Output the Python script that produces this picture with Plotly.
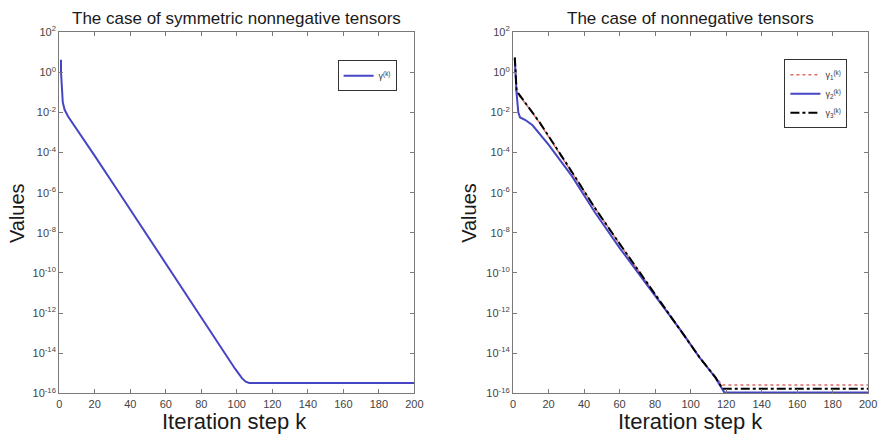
import plotly.graph_objects as go

# ---- data ----
k_sym = [1, 1, 2, 3, 5, 7, 10, 15, 20, 33, 52, 70, 89, 99, 103, 105, 107, 200]
gamma_sym = [4.2, 1.0, 3.2e-2, 1.4e-2, 6.3e-3, 3.5e-3, 1.4e-3, 3.3e-4, 6.9e-5,
             1.26e-6, 3.5e-9, 1.3e-11, 3.7e-14, 1.7e-15, 5.6e-16, 3.8e-16, 3.3e-16, 3.3e-16]

k_g1 = [1, 2, 3, 5, 10, 15, 33, 46, 60, 81, 95, 105, 114, 118, 200]
gamma1 = [4.0, 1.1e-1, 7.9e-2, 4.7e-2, 1.26e-2, 3.0e-3, 1.1e-5,
          1.8e-7, 2.8e-9, 6.0e-12, 1.1e-13, 6.0e-15, 6.3e-16, 2.6e-16, 2.6e-16]

k_g2 = [1, 2, 3, 4, 7, 11, 20, 33, 46, 60, 81, 95, 105, 114, 119, 200]
gamma2 = [5.0, 9.5e-2, 1.0e-2, 5.6e-3, 4.2e-3, 2.3e-3, 2.5e-4, 7.1e-6,
          1.1e-7, 1.8e-9, 5.6e-12, 1.2e-13, 6.3e-15, 6.0e-16, 1.12e-16, 1.12e-16]

k_g3 = [1, 2, 3, 5, 10, 15, 33, 46, 60, 81, 95, 105, 114, 118, 200]
gamma3 = [5.6, 1.3e-1, 8.9e-2, 5.0e-2, 1.3e-2, 3.2e-3, 1.15e-5,
          1.8e-7, 2.9e-9, 6.3e-12, 1.2e-13, 6.3e-15, 6.3e-16, 1.7e-16, 1.7e-16]

x_ticks = list(range(0, 201, 20))
y_exps = [2, 0, -2, -4, -6, -8, -10, -12, -14, -16]

W, H = 887, 441
FONT = "Liberation Sans, Arial, sans-serif"


def px_x(x):
    return x / W


def px_y(y):
    return 1 - y / H


fig = go.Figure()

BLUE = "#4646c4"
fig.add_trace(go.Scatter(x=k_sym, y=gamma_sym, mode="lines",
                         line=dict(color=BLUE, width=2),
                         name="γ<sup>(k)</sup>", xaxis="x", yaxis="y",
                         legend="legend", showlegend=True))
fig.add_trace(go.Scatter(x=k_g1, y=gamma1, mode="lines",
                         line=dict(color="#e06a6a", width=1.5, dash="dot"),
                         name="γ<sub>1</sub><sup>(k)</sup>", xaxis="x2", yaxis="y2",
                         legend="legend2"))
fig.add_trace(go.Scatter(x=k_g2, y=gamma2, mode="lines",
                         line=dict(color=BLUE, width=2),
                         name="γ<sub>2</sub><sup>(k)</sup>", xaxis="x2", yaxis="y2",
                         legend="legend2"))
fig.add_trace(go.Scatter(x=k_g3, y=gamma3, mode="lines",
                         line=dict(color="black", width=2, dash="dashdot"),
                         name="γ<sub>3</sub><sup>(k)</sup>", xaxis="x2", yaxis="y2",
                         legend="legend2"))

ydom = [px_y(398), px_y(25)]
axis_common = dict(showline=True, linecolor="#7a7a7a", linewidth=1.2, mirror="allticks",
                   ticks="inside", ticklen=4, tickcolor="#7a7a7a", showgrid=False,
                   zeroline=False, tickfont=dict(family=FONT, size=11, color="#444"))

xaxis = dict(axis_common, range=[0, 200], tickvals=x_ticks,
             ticktext=[str(v) for v in x_ticks])
yaxis = dict(axis_common, type="log", range=[-16, 2],
             tickvals=[10.0 ** e for e in y_exps],
             ticktext=["10<sup>%d</sup>" % e for e in y_exps])

fig.update_layout(
    width=W, height=H,
    margin=dict(l=0, r=0, t=0, b=0),
    showlegend=True,
    paper_bgcolor="white", plot_bgcolor="white",
    font=dict(family=FONT, color="#222"),
    xaxis=dict(xaxis, domain=[px_x(57), px_x(417)], anchor="y"),
    yaxis=dict(yaxis, domain=ydom, anchor="x"),
    xaxis2=dict(xaxis, domain=[px_x(517), px_x(877)], anchor="y2"),
    yaxis2=dict(yaxis, domain=ydom, anchor="x2"),
    legend=dict(x=px_x(399), y=px_y(54), xanchor="right", yanchor="top",
                bordercolor="#333", borderwidth=1, bgcolor="white",
                font=dict(family=FONT, size=9, color="#333"),
                itemwidth=30, tracegroupgap=0),
    legend2=dict(x=px_x(856), y=px_y(53), xanchor="right", yanchor="top",
                 bordercolor="#333", borderwidth=1, bgcolor="white",
                 font=dict(family=FONT, size=9, color="#333"),
                 itemwidth=30, tracegroupgap=0),
)

annos = [
    dict(text="The case of symmetric nonnegative tensors", x=px_x(237), y=px_y(11), size=17, angle=0),
    dict(text="The case of nonnegative tensors", x=px_x(697), y=px_y(11), size=17, angle=0),
    dict(text="Iteration step k", x=px_x(235), y=px_y(427), size=22, angle=0),
    dict(text="Iteration step k", x=px_x(697), y=px_y(427), size=22, angle=0),
    dict(text="Values", x=px_x(14), y=px_y(212), size=20, angle=-90),
    dict(text="Values", x=px_x(473), y=px_y(212), size=20, angle=-90),
]
for a in annos:
    fig.add_annotation(text=a["text"], x=a["x"], y=a["y"], xref="paper", yref="paper",
                       xanchor="center", yanchor="middle", showarrow=False,
                       textangle=a["angle"],
                       font=dict(family=FONT, size=a["size"], color="#1a1a1a"))

fig.write_html("out.html")
